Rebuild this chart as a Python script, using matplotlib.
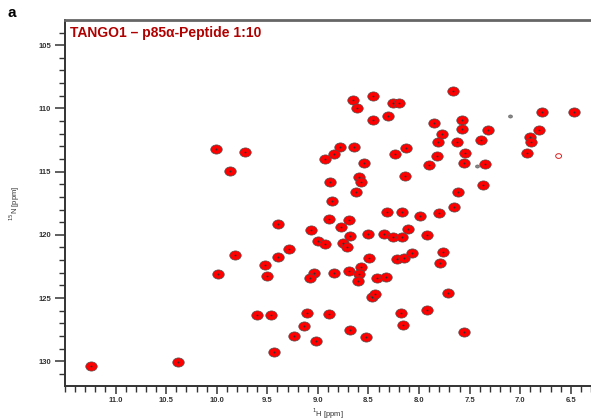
import matplotlib.pyplot as plt
import numpy as np
from matplotlib.path import Path
from matplotlib.transforms import Affine2D
from matplotlib.ticker import MultipleLocator

plt.rcParams['font.family'] = ['Liberation Sans', 'DejaVu Sans']

# peak positions: 1H (ppm), 15N (ppm)
h_ppm = [11.24, 10.38, 9.60, 9.46, 9.24, 9.43, 9.11, 8.89, 9.14, 9.02,
         8.68, 8.52, 8.18, 8.16, 7.92, 7.56, 10.01, 9.72, 9.87, 8.78,
         8.84, 8.93, 8.88, 8.86, 8.89, 8.69, 9.39, 9.07, 8.77, 9.00,
         8.93, 8.75, 8.71, 9.29, 9.82, 9.39, 9.52, 9.99, 9.50, 9.04,
         9.08, 8.84, 8.69, 7.66, 8.65, 8.46, 8.61, 8.26, 8.20, 8.46,
         8.31, 7.85, 7.58, 7.58, 7.32, 7.77, 7.81, 7.62, 7.39, 7.55,
         8.64, 8.24, 8.13, 7.82, 7.90, 7.56, 7.35, 8.54, 8.59, 8.57,
         8.14, 8.62, 7.61, 7.37, 8.32, 8.17, 7.99, 7.80, 7.65, 6.78,
         6.47, 6.81, 6.90, 6.89, 6.93, 8.68, 8.50, 8.35, 8.26, 8.17,
         8.11, 7.92, 8.49, 8.22, 8.15, 8.07, 7.76, 7.79, 8.57, 8.59,
         8.60, 8.42, 8.33, 8.47, 8.44, 7.71]
n_ppm = [130.38, 130.06, 126.34, 126.34, 128.00, 129.27, 126.19, 126.26, 127.21, 128.40,
         127.53, 128.08, 126.19, 127.13, 125.95, 127.69, 113.22, 113.46, 114.96, 113.06,
         113.62, 114.01, 115.83, 117.33, 118.75, 118.83, 119.15, 119.62, 119.39, 120.49,
         120.73, 120.65, 120.97, 121.13, 121.60, 121.76, 122.39, 123.10, 123.26, 123.02,
         123.42, 123.02, 122.87, 108.64, 109.35, 109.03, 109.98, 109.58, 109.58, 110.93,
         110.61, 111.17, 110.93, 111.64, 111.72, 112.04, 112.67, 112.67, 112.51, 113.54,
         113.06, 113.62, 113.14, 113.77, 114.49, 114.33, 114.41, 114.33, 115.43, 115.83,
         115.36, 116.62, 116.62, 116.07, 118.20, 118.20, 118.52, 118.28, 117.81, 110.30,
         110.30, 111.72, 112.27, 112.67, 113.54, 120.10, 119.94, 119.94, 120.18, 120.18,
         119.55, 120.02, 121.84, 121.92, 121.84, 121.44, 121.36, 122.23, 122.55, 123.10,
         123.66, 123.42, 123.34, 124.95, 124.70, 124.60]

# weak / reference-only signals
weak_h = [7.43, 7.10]
weak_n = [114.57, 110.61]
ring_h = [6.62]
ring_n = [113.77]

x_ticks = [11.0, 10.5, 10.0, 9.5, 9.0, 8.5, 8.0, 7.5, 7.0, 6.5]
y_ticks = [105, 110, 115, 120, 125, 130]

ellipse = Path.unit_circle().transformed(Affine2D().scale(1.25, 1.0))

fig = plt.figure(figsize=(5.91, 4.2), dpi=100)
ax = fig.add_axes([0.110, 0.081, 0.89, 0.871])

ax.scatter(h_ppm, n_ppm, s=68, marker=ellipse, facecolor='#ff0000',
           edgecolor='#505050', linewidth=0.5, zorder=3)
ax.scatter(h_ppm, n_ppm, s=2, marker='o', color='#303030', linewidth=0, zorder=4)
ax.scatter(weak_h, weak_n, s=8, marker=ellipse, facecolor='#888888',
           edgecolor='#555555', linewidth=0.4, zorder=3)
ax.scatter(ring_h, ring_n, s=18, marker=ellipse, facecolor='none',
           edgecolor='#dd2020', linewidth=0.7, zorder=3)

ax.set_xlim(11.50, 6.30)
ax.set_ylim(131.96, 103.02)

ax.set_xticks(x_ticks)
ax.set_xticklabels([f'{v:.1f}' for v in x_ticks])
ax.set_yticks(y_ticks)
ax.xaxis.set_minor_locator(MultipleLocator(0.1))
ax.yaxis.set_minor_locator(MultipleLocator(1))

ax.tick_params(axis='both', which='major', labelsize=5.5, width=1.1,
               color='#333333', labelcolor='#333333', direction='out')
ax.tick_params(axis='x', which='major', length=6, pad=2)
ax.tick_params(axis='y', which='major', length=7, pad=3)
ax.tick_params(axis='both', which='minor', length=4, width=1.0, color='#333333')
for lab in ax.get_xticklabels() + ax.get_yticklabels():
    lab.set_fontweight('bold')

for side in ['left', 'bottom']:
    ax.spines[side].set_linewidth(1.4)
    ax.spines[side].set_color('#333333')
ax.spines['top'].set_linewidth(2.0)
ax.spines['top'].set_color('#666666')
ax.spines['right'].set_visible(False)

ax.set_xlabel('$^{1}$H [ppm]', fontsize=5.5, color='#333333', labelpad=2)
ax.set_ylabel('$^{15}$N [ppm]', fontsize=5.5, color='#333333', labelpad=12)

ax.text(0.01, 0.985, 'TANGO1 – p85α-Peptide 1:10', transform=ax.transAxes,
        ha='left', va='top', fontsize=10, fontweight='bold', color='#b00000')
fig.text(0.013, 0.985, 'a', ha='left', va='top', fontsize=11, fontweight='bold')

fig.savefig('out.png', dpi=100)
